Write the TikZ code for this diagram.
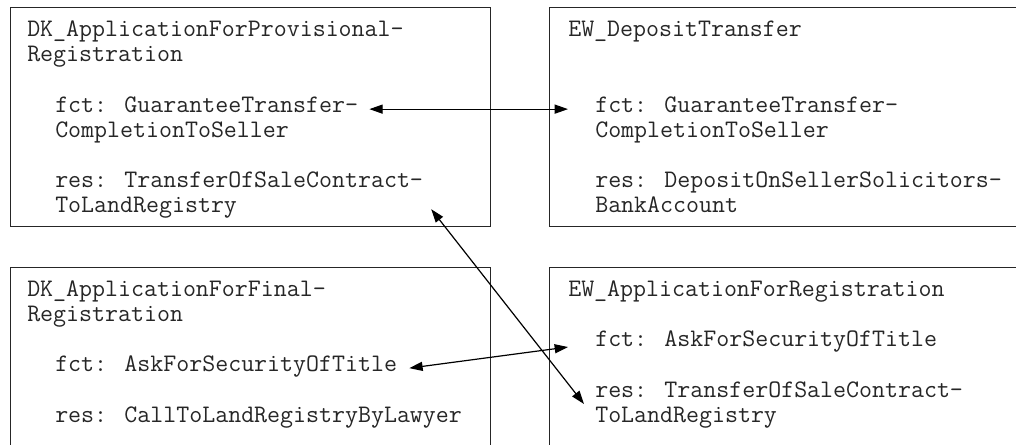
\documentclass[tikz,border=0pt]{standalone}
\usepackage{fontspec}
\usetikzlibrary{arrows.meta,calc}
\begin{document}
\begin{tikzpicture}[x=0.75pt,y=-0.75pt,
  box/.style={draw=black!85, line width=0.9pt, anchor=north west, inner sep=0pt},
  txt/.style={anchor=base west, inner sep=0pt, text=black!85, font=\ttfamily\fontsize{18.9pt}{21pt}\selectfont},
  link/.style={line width=0.9pt, {Triangle[length=10pt,width=6.8pt]}-{Triangle[length=10pt,width=6.8pt]}}]
\useasboundingbox (0,0) rectangle (1016,444);
\clip (0,0) rectangle (1016,444);
\fill[white] (0,0) rectangle (1016,444);
% boxes
\node[box, minimum width=360pt, minimum height=164.25pt] (tlbox) at (10,7) {};
\node[box, minimum width=375pt, minimum height=164.25pt] (trbox) at (549,7) {};
\node[box, minimum width=360pt, minimum height=150pt] (blbox) at (10,267) {};
\node[box, minimum width=375pt, minimum height=150pt] (brbox) at (549,267) {};
% top left
\node[txt] (tlt1) at (27,36) {DK\_ApplicationForProvisional-};
\node[txt] (tlt2) at (27,61) {Registration};
\node[txt] (tlf1) at (55,112) {fct: GuaranteeTransfer-};
\node[txt] (tlf2) at (55,137) {CompletionToSeller};
\node[txt] (tlr1) at (55,187) {res: TransferOfSaleContract-};
\node[txt] (tlr2) at (55,212) {ToLandRegistry};
% top right
\node[txt] (trt1) at (568,36) {EW\_DepositTransfer};
\node[txt] (trf1) at (595,112) {fct: GuaranteeTransfer-};
\node[txt] (trf2) at (595,137) {CompletionToSeller};
\node[txt] (trr1) at (595,187) {res: DepositOnSellerSolicitors-};
\node[txt] (trr2) at (595,212) {BankAccount};
% bottom left
\node[txt] (blt1) at (27,296) {DK\_ApplicationForFinal-};
\node[txt] (blt2) at (27,321) {Registration};
\node[txt] (blf1) at (55,371) {fct: AskForSecurityOfTitle};
\node[txt] (blr1) at (55,422) {res: CallToLandRegistryByLawyer};
% bottom right
\node[txt] (brt1) at (568,296) {EW\_ApplicationForRegistration};
\node[txt] (brf1) at (595,346) {fct: AskForSecurityOfTitle};
\node[txt] (brr1) at (595,397) {res: TransferOfSaleContract-};
\node[txt] (brr2) at (595,422) {ToLandRegistry};
% connectors
\draw[link] ($(tlf1.mid east)+(11,0)$) -- ($(trf1.mid west)+(-27,0)$);
\draw[link] ($(blf1.mid east)+(12,0)$) -- ($(brf1.base west)+(-27,1)$);
\draw[link] ($(tlbox.south east)+(-60,-18)$) -- ($(brr1.base west)+(-11,7)$);
\end{tikzpicture}
\end{document}
